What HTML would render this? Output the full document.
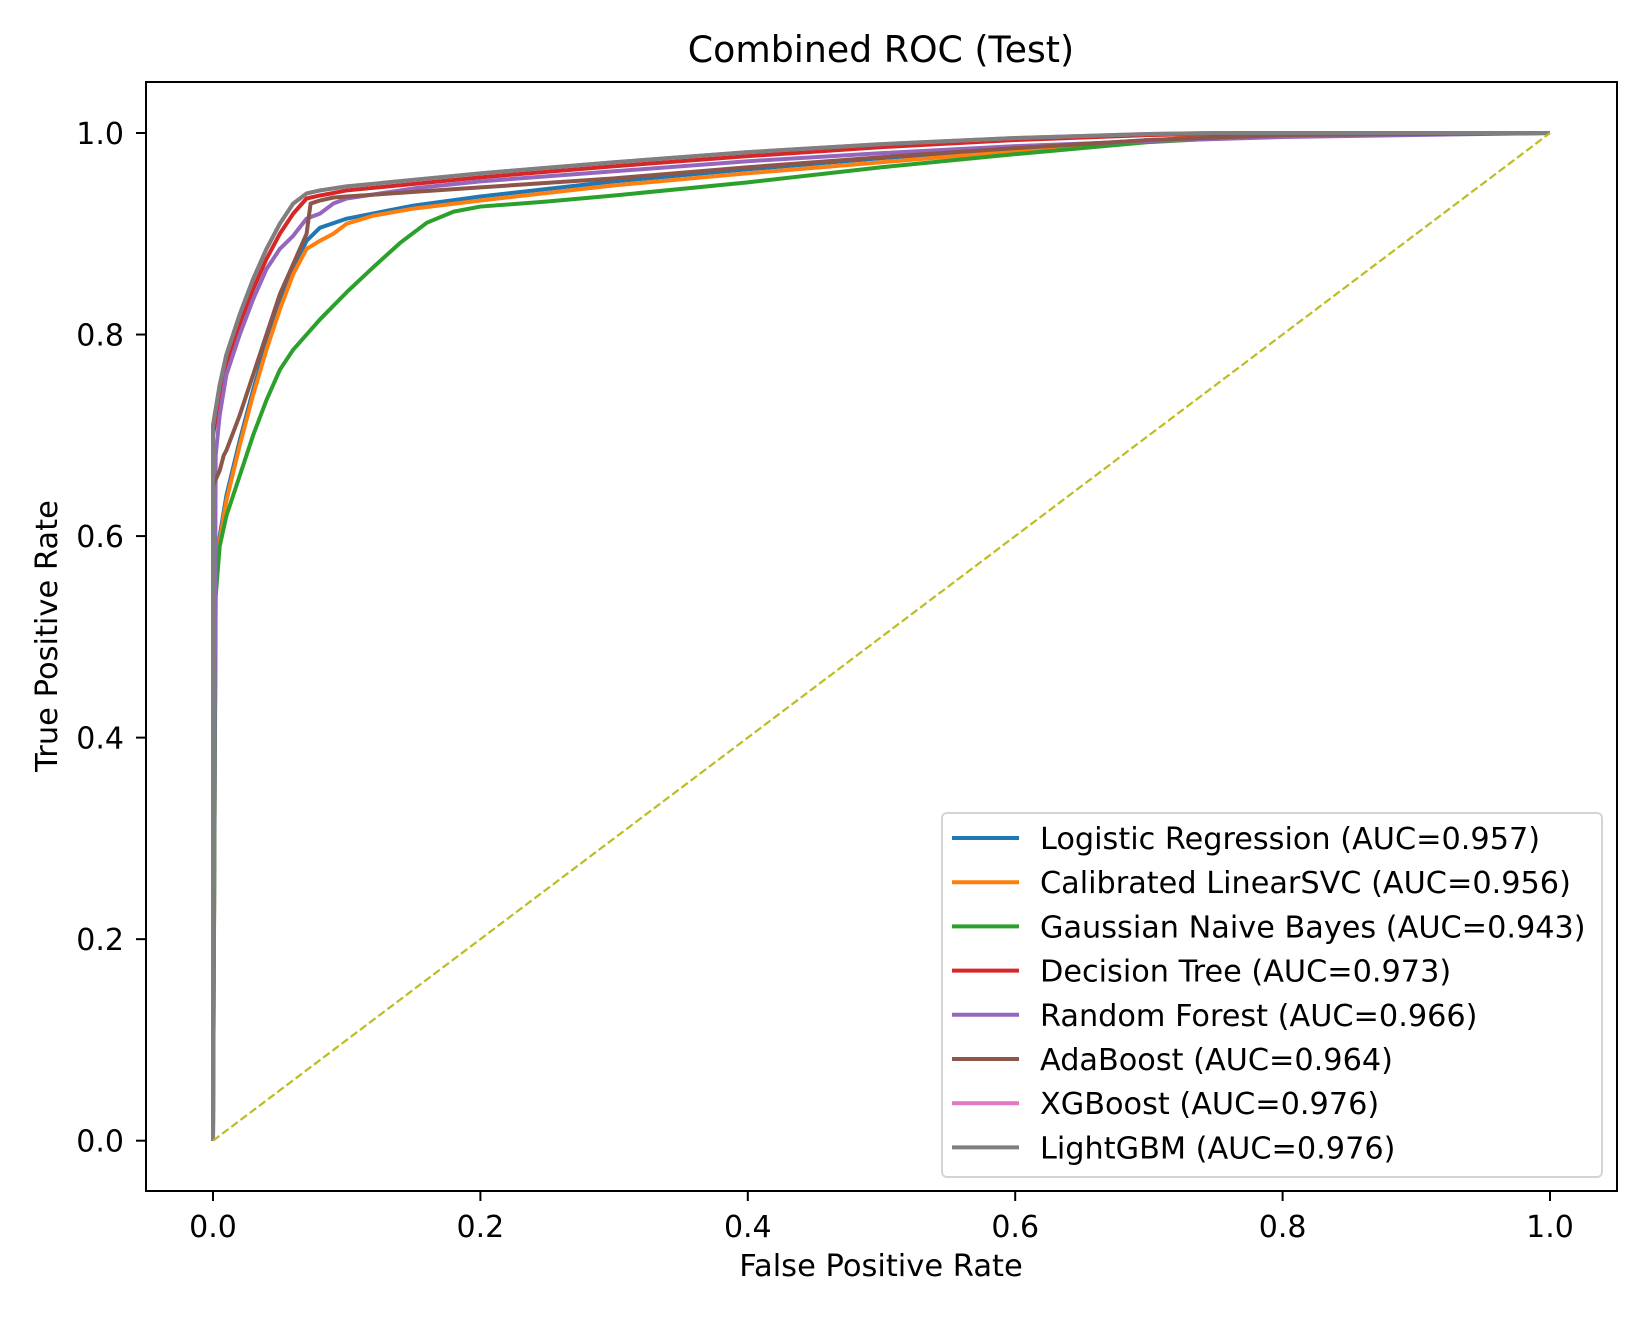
<!DOCTYPE html>
<html><head><meta charset="utf-8"><style>
html,body{margin:0;padding:0;background:#fff;}
svg text{font-family:"DejaVu Sans","Liberation Sans",sans-serif;fill:#000;}
</style></head><body>
<svg id="chart" width="1650" height="1320" xmlns="http://www.w3.org/2000/svg">
<rect width="1650" height="1320" fill="#fff"/>
<text x="881" y="62" font-size="36.3" text-anchor="middle">Combined ROC (Test)</text>
<text x="881" y="1276" font-size="30.5" text-anchor="middle">False Positive Rate</text>
<text transform="translate(57,636) rotate(-90)" font-size="30.5" text-anchor="middle">True Positive Rate</text>
<g id="ticks"></g>
<g id="plot"></g>
<rect x="146" y="82" width="1471" height="1109" fill="none" stroke="#000" stroke-width="2"/>
<g id="legend"></g>
</svg>
<script>
const models = ["Logistic Regression (AUC=0.957)","Calibrated LinearSVC (AUC=0.956)","Gaussian Naive Bayes (AUC=0.943)","Decision Tree (AUC=0.973)","Random Forest (AUC=0.966)","AdaBoost (AUC=0.964)","XGBoost (AUC=0.976)","LightGBM (AUC=0.976)"];
const colors = ["#1f77b4","#ff7f0e","#2ca02c","#d62728","#9467bd","#8c564b","#e377c2","#7f7f7f"];
const xTicks = [0,0.2,0.4,0.6,0.8,1.0];
const yTicks = [0,0.2,0.4,0.6,0.8,1.0];
const fprLR = [0,0.002,0.005,0.01,0.02,0.03,0.04,0.05,0.06,0.07,0.08,0.1,0.15,0.2,0.3,0.4,0.5,0.6,0.7,0.8,1];
const tprLR = [0,0.57,0.6,0.64,0.695,0.745,0.79,0.83,0.865,0.893,0.906,0.915,0.928,0.937,0.952,0.964,0.975,0.985,0.993,0.998,1];
const fprSVC = [0,0.002,0.005,0.01,0.02,0.03,0.04,0.05,0.06,0.07,0.08,0.09,0.1,0.12,0.15,0.2,0.3,0.4,0.5,0.6,0.7,0.75,1];
const tprSVC = [0,0.56,0.595,0.635,0.69,0.74,0.785,0.825,0.86,0.885,0.893,0.9,0.91,0.918,0.925,0.933,0.948,0.96,0.971,0.982,0.992,0.998,1];
const fprNB = [0,0.002,0.005,0.01,0.02,0.03,0.04,0.05,0.06,0.07,0.08,0.1,0.12,0.14,0.16,0.18,0.2,0.25,0.3,0.4,0.5,0.6,0.7,0.8,1];
const tprNB = [0,0.54,0.59,0.62,0.66,0.70,0.735,0.765,0.785,0.80,0.815,0.842,0.867,0.891,0.911,0.922,0.927,0.932,0.938,0.951,0.966,0.979,0.991,0.998,1];
const fprDT = [0,0,0.005,0.01,0.02,0.03,0.04,0.05,0.06,0.07,0.08,0.1,0.2,0.3,0.4,0.5,0.6,0.7,0.8,1];
const tprDT = [0,0.70,0.74,0.77,0.81,0.845,0.875,0.9,0.92,0.935,0.938,0.943,0.956,0.967,0.977,0.986,0.993,0.998,1,1];
const fprRF = [0,0.002,0.005,0.01,0.02,0.03,0.04,0.05,0.06,0.07,0.08,0.09,0.1,0.15,0.2,0.3,0.4,0.5,0.6,0.7,0.8,1];
const tprRF = [0,0.68,0.72,0.76,0.80,0.835,0.865,0.885,0.898,0.915,0.92,0.93,0.935,0.945,0.952,0.962,0.972,0.98,0.987,0.992,0.996,1];
const fprAda = [0,0,0.005,0.008,0.01,0.02,0.03,0.04,0.05,0.06,0.07,0.073,0.08,0.09,0.1,0.2,0.3,0.4,0.5,0.6,0.7,0.8,1];
const tprAda = [0,0.65,0.665,0.68,0.685,0.72,0.76,0.8,0.84,0.87,0.9,0.93,0.933,0.936,0.937,0.946,0.955,0.966,0.976,0.985,0.993,0.998,1];
const fprXGB = [0,0,0.005,0.01,0.02,0.03,0.04,0.05,0.06,0.07,0.08,0.1,0.2,0.3,0.4,0.5,0.6,0.7,0.75,1];
const tprXGB = [0,0.71,0.75,0.78,0.82,0.855,0.885,0.91,0.93,0.94,0.943,0.947,0.96,0.971,0.981,0.989,0.995,0.999,1,1];
const fprLGB = [0,0,0.005,0.01,0.02,0.03,0.04,0.05,0.06,0.07,0.08,0.1,0.2,0.3,0.4,0.5,0.6,0.7,0.75,1];
const tprLGB = [0,0.71,0.75,0.78,0.82,0.855,0.885,0.91,0.93,0.94,0.943,0.947,0.96,0.971,0.981,0.989,0.995,0.999,1,1];
const fprs = [fprLR,fprSVC,fprNB,fprDT,fprRF,fprAda,fprXGB,fprLGB];
const tprs = [tprLR,tprSVC,tprNB,tprDT,tprRF,tprAda,tprXGB,tprLGB];

const NS="http://www.w3.org/2000/svg";
function sx(v){return 213+v*1337;}
function sy(v){return 1140.7-v*1007.7;}
const ticks=document.getElementById('ticks');
xTicks.forEach(t=>{
  const l=document.createElementNS(NS,'line');
  l.setAttribute('x1',sx(t));l.setAttribute('x2',sx(t));l.setAttribute('y1',1191);l.setAttribute('y2',1201);
  l.setAttribute('stroke','#000');l.setAttribute('stroke-width','2');
  
  
  ticks.appendChild(l);
  const tx=document.createElementNS(NS,'text');
  tx.setAttribute('x',sx(t));tx.setAttribute('y',1237);tx.setAttribute('font-size','30');tx.setAttribute('text-anchor','middle');
  tx.textContent=t.toFixed(1);
  
  
  ticks.appendChild(tx);
});
yTicks.forEach(t=>{
  const l=document.createElementNS(NS,'line');
  l.setAttribute('x1',136);l.setAttribute('x2',146);l.setAttribute('y1',sy(t));l.setAttribute('y2',sy(t));
  l.setAttribute('stroke','#000');l.setAttribute('stroke-width','2');
  
  
  ticks.appendChild(l);
  const tx=document.createElementNS(NS,'text');
  tx.setAttribute('x',124);tx.setAttribute('y',sy(t)+11);tx.setAttribute('font-size','30');tx.setAttribute('text-anchor','end');
  tx.textContent=t.toFixed(1);
  
  
  ticks.appendChild(tx);
});
const plot=document.getElementById('plot');
fprs.forEach((f,i)=>{
  const p=document.createElementNS(NS,'polyline');
  p.setAttribute('points',f.map((x,j)=>sx(x)+','+sy(tprs[i][j])).join(' '));
  p.setAttribute('fill','none');p.setAttribute('stroke',colors[i]);p.setAttribute('stroke-width','4');p.setAttribute('stroke-linejoin','round');
  
  
  plot.appendChild(p);
});
const d=document.createElementNS(NS,'line');
d.setAttribute('x1',sx(0));d.setAttribute('y1',sy(0));d.setAttribute('x2',sx(1));d.setAttribute('y2',sy(1));
d.setAttribute('stroke','#bcbd22');d.setAttribute('stroke-width','2.2');d.setAttribute('stroke-dasharray','8,3.5');


plot.appendChild(d);
const lg=document.getElementById('legend');
const box=document.createElementNS(NS,'rect');
box.setAttribute('x',942);box.setAttribute('y',813);box.setAttribute('width',660);box.setAttribute('height',364);box.setAttribute('rx',5);
box.setAttribute('fill','#fff');box.setAttribute('fill-opacity','0.8');box.setAttribute('stroke','#d4d4d4');box.setAttribute('stroke-width','2');


lg.appendChild(box);
models.forEach((m,i)=>{
  const y=838+i*44.2;
  const l=document.createElementNS(NS,'line');
  l.setAttribute('x1',952);l.setAttribute('x2',1019);l.setAttribute('y1',y);l.setAttribute('y2',y);
  l.setAttribute('stroke',colors[i]);l.setAttribute('stroke-width','4');
  
  
  lg.appendChild(l);
  const t=document.createElementNS(NS,'text');
  t.setAttribute('x',1040);t.setAttribute('y',y+11);t.setAttribute('font-size','30.3');
  t.textContent=m;
  
  
  lg.appendChild(t);
});
</script>
</body></html>
